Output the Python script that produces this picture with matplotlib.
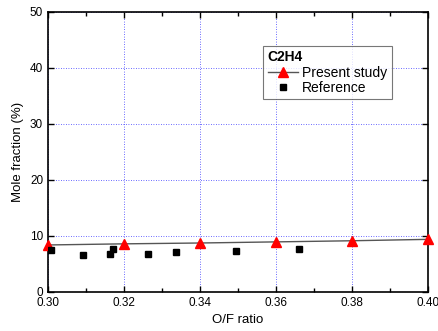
import numpy as np
import matplotlib
matplotlib.use('Agg')
import matplotlib.pyplot as plt
from matplotlib.ticker import MultipleLocator

plt.rcParams['font.family'] = ['Liberation Sans', 'DejaVu Sans']

# present study (model)
of_present = [0.30, 0.32, 0.34, 0.36, 0.38, 0.40]
c2h4_present = [8.4, 8.6, 8.75, 8.95, 9.15, 9.4]

# reference data
of_ref = [0.3007, 0.3091, 0.3163, 0.3172, 0.3264, 0.3336, 0.3495, 0.3661]
c2h4_ref = [7.5, 6.55, 6.7, 7.7, 6.7, 7.2, 7.25, 7.7]

fig = plt.figure(figsize=(4.38, 3.31), dpi=100)
ax = fig.add_axes([48 / 438, 39 / 331, 380 / 438, 280 / 331])

ax.plot(of_present, c2h4_present, '-', color='#555555', lw=1.0,
        marker='^', mfc='red', mec='red', ms=6.5, label='Present study', clip_on=False, zorder=3)
ax.plot(of_ref, c2h4_ref, 's', color='black', ms=5, label='Reference', zorder=3)

ax.set_xlim(0.30, 0.40)
ax.set_ylim(0, 50)
ax.xaxis.set_major_locator(MultipleLocator(0.02))
ax.xaxis.set_minor_locator(MultipleLocator(0.01))
ax.yaxis.set_major_locator(MultipleLocator(10))
ax.xaxis.set_major_formatter(matplotlib.ticker.FormatStrFormatter('%.2f'))
ax.tick_params(which='both', direction='in', top=True, right=True, labelsize=8.5)
ax.tick_params(which='major', length=4, width=1)
ax.tick_params(which='minor', length=3, width=1)
ax.grid(True, which='major', color='#3a3aff', ls=(0, (1, 2)), lw=0.6)
for s in ax.spines.values():
    s.set_linewidth(1.2)

ax.set_xlabel('O/F ratio', fontsize=9.5)
ax.set_ylabel('Mole fraction (%)', fontsize=9.5)

leg = ax.legend(loc='upper left', bbox_to_anchor=(0.567, 0.878), title='C2H4',
                fontsize=10, title_fontsize=10, frameon=True, fancybox=False,
                edgecolor='#555555', borderpad=0.3, handlelength=2.2,
                handletextpad=0.3, labelspacing=0.1, borderaxespad=0)
leg.get_frame().set_linewidth(0.8)
leg.get_title().set_fontweight('bold')
leg._legend_box.align = 'left'

fig.savefig('out.png', dpi=100)
